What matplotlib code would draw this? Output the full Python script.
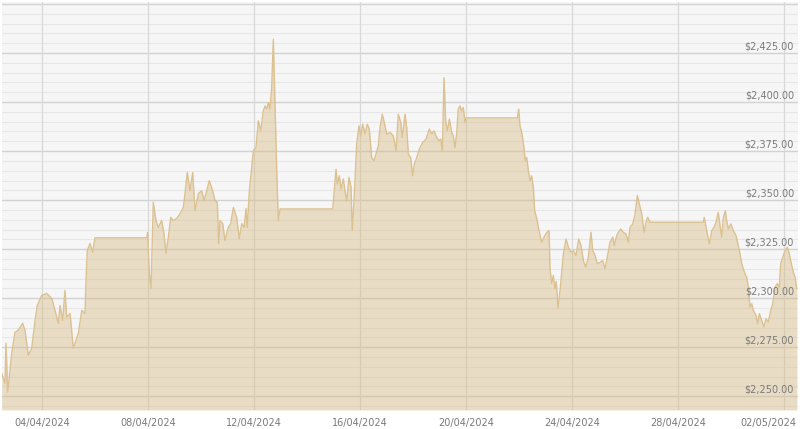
import numpy as np
import matplotlib
matplotlib.use("Agg")
import matplotlib.pyplot as plt
import matplotlib.dates as mdates
import matplotlib.transforms as mtransforms

# hours since 2024-04-02 00:00
hours_since_start = [
    11.5, 14.5, 15.4, 16.9, 20.6, 23.5, 26.3, 30.5, 32.6, 35.6, 38.7, 41.7, 43.7, 47.7,
    52.3, 56.8, 59.8, 62.8, 64.3, 66.7, 68.8, 70.4, 73.4, 76.3, 80.9, 84.0, 86.9, 87.9,
    89.0, 91.5, 93.9, 96.0, 142.8, 143.7, 145.2, 146.7, 148.8, 151.2, 153.3, 156.4,
    158.5, 160.3, 162.4, 164.6, 166.9, 170.0, 173.0, 176.0, 177.5, 179.6, 182.0, 184.5,
    186.6, 189.6, 192.6, 194.7, 197.2, 199.5, 202.6, 204.7, 206.8, 208.0, 209.2, 211.7,
    213.7, 216.7, 218.9, 221.3, 224.3, 226.7, 228.9, 231.0, 232.8, 233.9, 235.8, 237.9,
    239.4, 241.8, 243.9, 246.1, 248.4, 250.0, 251.5, 253.0, 254.5, 256.0, 257.5, 259.0,
    260.6, 262.0, 263.6, 311.3, 314.3, 315.5, 317.3, 318.8, 320.9, 322.4, 324.0, 326.0,
    327.9, 329.0, 330.6, 333.0, 335.1, 336.6, 338.5, 340.5, 342.6, 344.4, 346.6, 348.7,
    350.5, 352.6, 354.1, 356.2, 358.0, 360.2, 363.2, 366.2, 368.6, 370.7, 372.9, 374.3,
    376.8, 378.3, 379.8, 381.9, 383.7, 385.2, 387.4, 389.7, 392.8, 395.8, 398.8, 401.0,
    403.0, 405.5, 407.6, 409.1, 410.6, 412.1, 413.6, 415.1, 416.9, 419.1, 420.5, 422.1,
    423.6, 425.0, 426.6, 428.1, 429.6, 431.1, 432.0, 478.5, 479.7, 480.9, 482.5, 484.5,
    485.7, 487.0, 488.5, 490.0, 491.5, 493.0, 494.2, 496.1, 498.1, 500.6, 502.7, 505.1,
    507.2, 508.1, 509.6, 511.1, 512.6, 513.8, 515.3, 517.2, 520.2, 522.6, 524.7, 526.8,
    529.2, 531.6, 534.1, 536.2, 538.3, 540.4, 542.8, 545.2, 546.8, 548.9, 551.0, 553.4,
    555.8, 557.9, 560.0, 562.4, 564.9, 566.3, 568.5, 570.0, 572.1, 574.5, 576.9, 579.0,
    580.6, 583.0, 585.1, 587.2, 589.0, 591.2, 593.2, 595.0, 596.6, 598.7, 646.9, 647.8,
    650.0, 652.4, 654.6, 656.6, 658.4, 660.5, 662.1, 663.6, 665.1, 666.9, 668.1, 669.6,
    671.8, 674.1, 676.6, 678.6, 680.2, 681.7, 683.2, 684.7, 686.2, 687.7, 689.2, 690.8,
    692.2, 694.7, 696.2, 697.7, 699.8, 701.9, 703.7, 705.8, 708.0, 709.8, 711.9, 714.0,
    715.8, 717.0, 718.9, 721.0, 723.0, 724.8, 727.0, 728.5, 730.0, 731.5,
]
price = [
    2261.7, 2256.7, 2277.0, 2252.1, 2271.9, 2282.6, 2283.6, 2287.2, 2283.6, 2270.9, 2274.5, 2288.7, 2296.3, 2301.4,
    2302.4, 2299.9, 2293.8, 2287.2, 2296.3, 2288.7, 2304.0, 2290.2, 2292.3, 2274.5, 2282.1, 2293.8, 2292.3, 2309.0,
    2324.3, 2327.9, 2323.4, 2330.8, 2330.8, 2333.5, 2312.6, 2305.0, 2348.9, 2339.6, 2336.1, 2339.6,
    2332.9, 2322.8, 2331.1, 2341.2, 2339.6, 2340.6, 2343.1, 2346.3, 2353.3, 2364.1, 2354.8, 2364.1,
    2344.6, 2353.3, 2354.8, 2349.7, 2354.8, 2359.9, 2354.8, 2349.7, 2348.9, 2327.7, 2339.6, 2338.0,
    2329.4, 2336.1, 2338.0, 2346.3, 2341.2, 2330.4, 2338.0, 2336.1, 2345.7, 2336.1, 2354.8, 2366.7,
    2375.2, 2376.8, 2390.4, 2385.3, 2395.5, 2398.0, 2396.5, 2399.7, 2396.5, 2407.4, 2432.0, 2399.1,
    2365.0, 2339.6, 2345.5, 2345.5, 2365.8, 2358.2, 2362.4, 2355.7, 2360.8, 2354.8, 2349.7, 2361.6,
    2356.5, 2334.5, 2349.7, 2378.6, 2387.9, 2382.8, 2388.7, 2383.7, 2388.7, 2386.2, 2371.7, 2370.1,
    2373.5, 2377.7, 2387.0, 2393.8, 2389.6, 2383.7, 2384.5, 2382.8, 2375.2, 2393.8, 2389.6, 2381.9,
    2393.8, 2387.0, 2373.5, 2371.7, 2362.4, 2368.4, 2371.7, 2376.0, 2379.4, 2381.1, 2386.2, 2383.7,
    2385.3, 2381.9, 2380.2, 2381.1, 2375.2, 2412.4, 2390.4, 2385.3, 2391.3, 2384.5, 2382.8, 2376.8,
    2384.5, 2396.4, 2398.0, 2395.5, 2397.2, 2389.6, 2391.9, 2391.9, 2396.4, 2387.9, 2384.5, 2376.8,
    2370.1, 2371.7, 2365.0, 2359.9, 2362.4, 2356.5, 2344.6, 2340.6, 2334.5, 2328.5, 2331.1, 2333.5,
    2334.5, 2315.0, 2307.4, 2311.6, 2304.8, 2308.5, 2295.1, 2304.0, 2322.6, 2330.2, 2326.0, 2323.4,
    2324.3, 2321.8, 2330.2, 2326.8, 2319.2, 2315.8, 2320.9, 2333.6, 2324.3, 2321.8, 2317.5, 2318.3,
    2319.2, 2315.0, 2320.9, 2328.5, 2331.1, 2326.8, 2331.9, 2333.6, 2335.3, 2333.6, 2332.8, 2328.5,
    2336.1, 2337.9, 2343.0, 2352.3, 2348.0, 2343.0, 2333.6, 2338.7, 2341.2, 2338.7, 2338.7, 2341.2,
    2334.5, 2327.7, 2334.5, 2336.1, 2338.7, 2343.8, 2337.0, 2331.1, 2341.2, 2344.6, 2339.6, 2335.3,
    2337.9, 2334.5, 2331.9, 2326.8, 2322.6, 2317.5, 2315.0, 2312.4, 2310.7, 2305.6, 2295.5, 2297.2,
    2293.8, 2291.2, 2287.0, 2292.1, 2288.7, 2285.3, 2289.6, 2287.8, 2293.8, 2297.2, 2305.6, 2307.4,
    2305.6, 2317.5, 2320.9, 2324.3, 2326.0, 2322.6, 2316.7, 2313.3, 2310.7, 2305.0,
]
tick_dates = ["2024-04-04", "2024-04-08", "2024-04-12", "2024-04-16",
              "2024-04-20", "2024-04-24", "2024-04-28", "2024-05-02"]
y_major = [2250, 2275, 2300, 2325, 2350, 2375, 2400, 2425]

start = np.datetime64("2024-04-02T00:00")
times = start + (np.array(hours_since_start) * 60).round().astype("timedelta64[m]")
times = times.astype("datetime64[ms]").astype(object)

fig = plt.figure(figsize=(8.0, 4.29), dpi=100)
ax = fig.add_axes([2 / 800, 1 - 410 / 429, 796 / 800, 408 / 429])
ax.set_facecolor("#f6f6f6")

ymin, ymax = 2243, 2451
xmin = start + np.timedelta64(int(11.77 * 60), "m")
xmax = start + np.timedelta64(int(732.7 * 60), "m")
ax.set_xlim(xmin.astype(object), xmax.astype(object))
ax.set_ylim(ymin, ymax)

# minor grid every $5, major every $25
for v in range(2245, 2451, 5):
    major = (v % 25 == 0)
    ax.axhline(v, color="#d2d2d2" if major else "#e7e7e7", lw=1.0 if major else 0.8, zorder=0)
for d in tick_dates:
    ax.axvline(np.datetime64(d).astype(object), color="#d8d8d8", lw=0.9, zorder=0)

ax.fill_between(times, price, ymin, color="#d8bd8a", alpha=0.45, lw=0, zorder=2)
ax.plot(times, price, color="#dcc191", lw=1.0, zorder=3)

for v in y_major:
    ax.text(0.995, v + 0.7, f"${v:,.2f}", transform=ax.get_yaxis_transform(),
            ha="right", va="bottom", fontsize=7, color="#7a7a7a", zorder=4)

ax.set_xticks([np.datetime64(d).astype(object) for d in tick_dates])
ax.xaxis.set_major_formatter(mdates.DateFormatter("%d/%m/%Y"))
ax.tick_params(axis="x", length=0, labelsize=7, labelcolor="#7a7a7a", pad=6)
ax.set_yticks([])
for s in ax.spines.values():
    s.set_visible(False)

fig.canvas.draw()
last = ax.get_xticklabels()[-1]
last.set_ha("right")
last.set_transform(last.get_transform() + mtransforms.ScaledTranslation(12 / 100, 0, fig.dpi_scale_trans))

fig.savefig("out.png", dpi=100, facecolor="white")
